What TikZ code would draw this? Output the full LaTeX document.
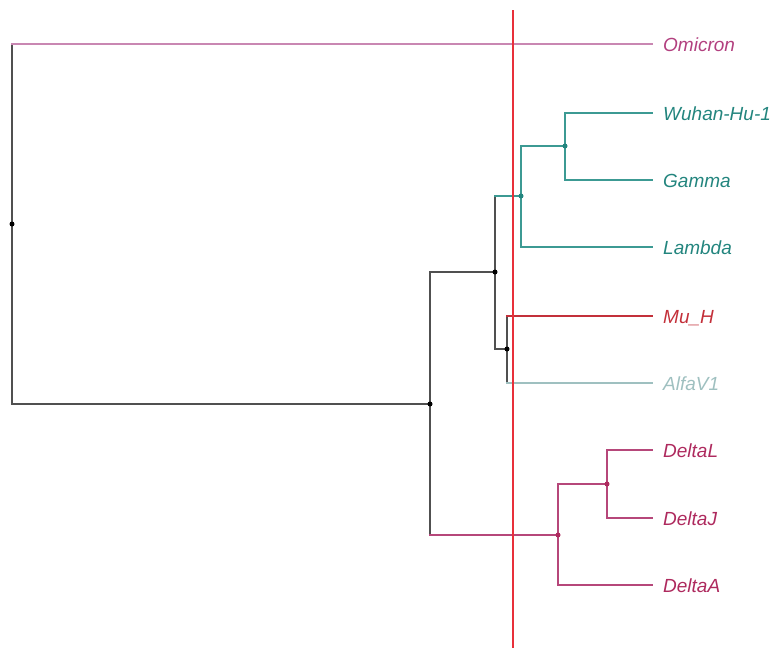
\documentclass[tikz,border=0pt]{standalone}
\usepackage{fontspec}
\setmainfont{Liberation Sans}
\usetikzlibrary{positioning,calc}

\definecolor{trunk}{HTML}{505050}
\definecolor{omiline}{HTML}{C987B2}
\definecolor{omitext}{HTML}{B2407F}
\definecolor{tealc}{HTML}{23857E}
\definecolor{tealline}{HTML}{3C9A93}
\definecolor{mucol}{HTML}{C3303A}
\definecolor{alfacol}{HTML}{9FC0C0}
\definecolor{deltacol}{HTML}{AE2A5E}
\definecolor{deltaline}{HTML}{B6477A}
\definecolor{cutcol}{HTML}{E8303A}

\begin{document}
\begin{tikzpicture}[
    x=1pt, y=-1pt,
    leaf/.style = {anchor=west, inner xsep=11pt, inner ysep=0pt, text height=14pt, text depth=0pt,
                   font=\fontsize{19}{20}\selectfont\itshape},
    edge/.style = {line width=1.25pt, line cap=rect},
    dot/.style = {circle, fill, inner sep=0pt, minimum size=5pt}
]
    \useasboundingbox (0,0) rectangle (775,648);

    % Tips
    \node [leaf, text=omitext] (om) at (652,44) {Omicron};
    \node [leaf, text=tealc] (wu) at (652,113) {Wuhan-Hu-1};
    \node [leaf, text=tealc] (ga) at (652,180) {Gamma};
    \node [leaf, text=tealc] (la) at (652,247) {Lambda};
    \node [leaf, text=mucol] (mu) at (652,316) {Mu\_H};
    \node [leaf, text=alfacol] (al) at (652,383) {AlfaV1};
    \node [leaf, text=deltacol] (dl) at (652,450) {DeltaL};
    \node [leaf, text=deltacol] (dj) at (652,518) {DeltaJ};
    \node [leaf, text=deltacol] (da) at (652,585) {DeltaA};

    % Inner nodes
    \coordinate (root) at (12,224);
    \coordinate (n1) at (430,404);
    \coordinate (n2) at (495,272);
    \coordinate (ntl) at (521,196);
    \coordinate (nwg) at (565,146);
    \coordinate (nma) at (507,349);
    \coordinate (ndl) at (558,535);
    \coordinate (nlj) at (607,484);

    % Vertical parts
    \draw [edge, trunk] (root |- om) -- (root |- n1);
    \draw [edge, trunk] (n1 |- n2) -- (n1 |- ndl);
    \draw [edge, trunk] (n2 |- ntl) -- (n2 |- nma);
    \draw [edge, trunk] (nma |- mu) -- (nma |- al);
    \draw [edge, tealline] (ntl |- nwg) -- (ntl |- la);
    \draw [edge, tealline] (nwg |- wu) -- (nwg |- ga);
    \draw [edge, deltaline] (ndl |- nlj) -- (ndl |- da);
    \draw [edge, deltaline] (nlj |- dl) -- (nlj |- dj);

    % Horizontal parts
    \draw [edge, omiline] (root |- om) -- (om);
    \draw [edge, trunk] (root |- n1) -- (n1);
    \draw [edge, trunk] (n1 |- n2) -- (n2);
    \draw [edge, deltaline] (n1 |- ndl) -- (ndl);
    \draw [edge, tealline] (n2 |- ntl) -- (ntl);
    \draw [edge, trunk] (n2 |- nma) -- (nma);
    \draw [edge, tealline] (ntl |- nwg) -- (nwg);
    \draw [edge, tealline] (ntl |- la) -- (la);
    \draw [edge, tealline] (nwg |- wu) -- (wu);
    \draw [edge, tealline] (nwg |- ga) -- (ga);
    \draw [edge, mucol] (nma |- mu) -- (mu);
    \draw [edge, alfacol] (nma |- al) -- (al);
    \draw [edge, deltaline] (ndl |- nlj) -- (nlj);
    \draw [edge, deltaline] (nlj |- dl) -- (dl);
    \draw [edge, deltaline] (nlj |- dj) -- (dj);
    \draw [edge, deltaline] (ndl |- da) -- (da);

    % Node dots
    \foreach \n in {root,n1,n2,nma} \node [dot, black] at (\n) {};
    \foreach \n in {ntl,nwg} \node [dot, tealc] at (\n) {};
    \foreach \n in {ndl,nlj} \node [dot, deltacol] at (\n) {};

    % Cut line
    \coordinate (cuttop) at (513,10);
    \coordinate (cutbot) at (513,648);
    \draw [line width=1.3pt, cutcol] (cuttop) -- (cutbot);
\end{tikzpicture}
\end{document}
